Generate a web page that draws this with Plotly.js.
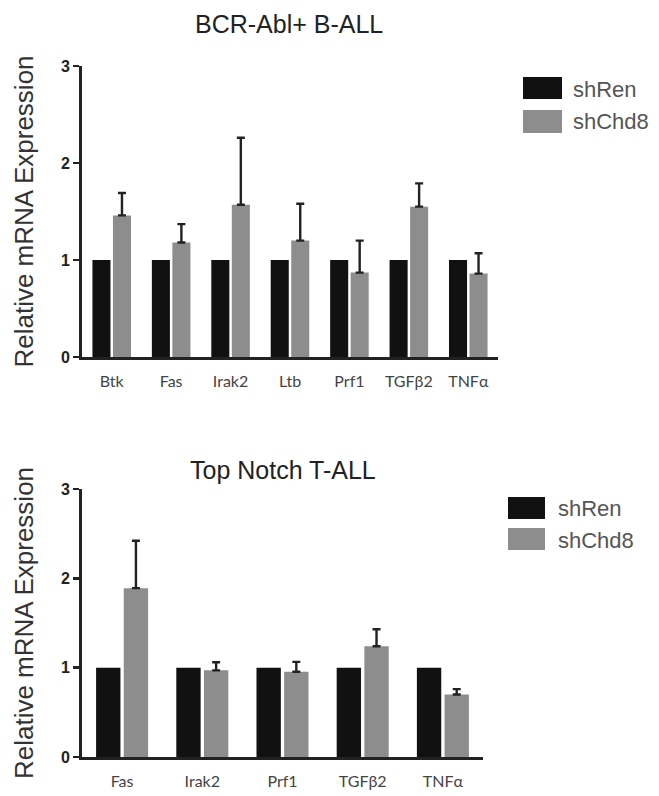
<!DOCTYPE html>
<html><head><meta charset="utf-8">
<script src="https://cdn.plot.ly/plotly-3.0.1.min.js"></script>
<style>html,body{margin:0;padding:0;background:#fff}#chart{width:659px;height:796px}</style>
</head><body><div id="chart"></div>
<script>
// Top panel: BCR-Abl+ B-ALL
const catsTop = ["Btk", "Fas", "Irak2", "Ltb", "Prf1", "TGFβ2", "TNFα"];
const shRenTop = [1, 1, 1, 1, 1, 1, 1];
const shChd8Top = [1.46, 1.18, 1.57, 1.20, 0.87, 1.55, 0.86];
const shChd8TopErr = [0.23, 0.19, 0.69, 0.38, 0.33, 0.24, 0.21];

// Bottom panel: Top Notch T-ALL
const catsBot = ["Fas", "Irak2", "Prf1", "TGFβ2", "TNFα"];
const shRenBot = [1, 1, 1, 1, 1];
const shChd8Bot = [1.89, 0.97, 0.955, 1.24, 0.70];
const shChd8BotErr = [0.53, 0.09, 0.11, 0.19, 0.06];

const yTicks = [0, 1, 2, 3];
const titles = ["BCR-Abl+ B-ALL", "Top Notch T-ALL"];
const seriesNames = ["shRen", "shChd8"];
const yTitle = "Relative mRNA Expression";

const BLACK = "#111111", GRAY = "#8d8d8d";
const zeros = n => new Array(n).fill(0);

const traces = [
  {type:"bar", x:catsTop, y:shRenTop, name:seriesNames[0], marker:{color:BLACK}, xaxis:"x", yaxis:"y", showlegend:false},
  {type:"bar", x:catsTop, y:shChd8Top, name:seriesNames[1], marker:{color:GRAY}, xaxis:"x", yaxis:"y", showlegend:false,
   error_y:{type:"data", symmetric:false, array:shChd8TopErr, arrayminus:zeros(catsTop.length), color:"#222", thickness:2.4, width:4}},
  {type:"bar", x:catsBot, y:shRenBot, name:seriesNames[0], marker:{color:BLACK}, xaxis:"x2", yaxis:"y2", showlegend:false},
  {type:"bar", x:catsBot, y:shChd8Bot, name:seriesNames[1], marker:{color:GRAY}, xaxis:"x2", yaxis:"y2", showlegend:false,
   error_y:{type:"data", symmetric:false, array:shChd8BotErr, arrayminus:zeros(catsBot.length), color:"#222", thickness:2.4, width:4}}
];

const W = 659, H = 796;
const px = v => v / W, py = v => 1 - v / H;
const SANS = "Liberation Sans, Arial, sans-serif";

const xaxisBase = {
  showline:true, linecolor:"#222", linewidth:3, ticks:"", showgrid:false, zeroline:false,
  tickfont:{family:"Lato, Open Sans, sans-serif", size:16, color:"#444"},
  ticklabelstandoff:8, fixedrange:true
};
const yaxisBase = {
  range:[0,3], tickvals:yTicks, ticktext:yTicks.map(String), showline:true, linecolor:"#222", linewidth:3,
  ticks:"outside", ticklen:6, tickwidth:2.5, tickcolor:"#222", showgrid:false, zeroline:false,
  tickfont:{family:SANS, size:16, color:"#222", weight:"bold"},
  title:{text:yTitle, font:{family:SANS, size:26, color:"#333"}, standoff:20},
  fixedrange:true
};

const legText = (t, x, y) => ({text:t, xref:"paper", yref:"paper", x:px(x), y:py(y), showarrow:false,
  xanchor:"left", yanchor:"middle", font:{family:SANS, size:22, color:"#555"}});
const legBox = (x0, x1, y0, y1, c) => ({type:"rect", xref:"paper", yref:"paper", x0:px(x0), x1:px(x1),
  y0:py(y1), y1:py(y0), fillcolor:c, line:{width:0}});

const layout = {
  width:W, height:H, margin:{l:0, r:0, t:0, b:0}, paper_bgcolor:"#fff", plot_bgcolor:"#fff",
  barmode:"group", bargap:0.31, bargroupgap:0.12, showlegend:false,
  xaxis:Object.assign({}, xaxisBase, {domain:[px(82), px(498)], anchor:"y", range:[-0.5, catsTop.length-0.5]}),
  yaxis:Object.assign({}, yaxisBase, {domain:[py(357), py(66)], anchor:"x"}),
  xaxis2:Object.assign({}, xaxisBase, {domain:[px(82), px(483)], anchor:"y2", range:[-0.5, catsBot.length-0.5]}),
  yaxis2:Object.assign({}, yaxisBase, {domain:[py(757), py(489)], anchor:"x2"}),
  annotations:[
    {text:titles[0], xref:"paper", yref:"paper", x:px(289), y:py(24), showarrow:false, xanchor:"center", yanchor:"middle",
     font:{family:SANS, size:25, color:"#222"}},
    {text:titles[1], xref:"paper", yref:"paper", x:px(283), y:py(470), showarrow:false, xanchor:"center", yanchor:"middle",
     font:{family:SANS, size:25, color:"#222"}},
    legText(seriesNames[0], 571, 89),
    legText(seriesNames[1], 571, 122),
    legText(seriesNames[0], 556, 508),
    legText(seriesNames[1], 556, 540)
  ],
  shapes:[
    legBox(523, 562, 77, 99, BLACK),
    legBox(523, 562, 110, 133, GRAY),
    legBox(508, 545, 497, 519, BLACK),
    legBox(508, 545, 528, 550, GRAY)
  ]
};

Plotly.newPlot("chart", traces, layout, {displayModeBar:false, staticPlot:true});
</script></body></html>
